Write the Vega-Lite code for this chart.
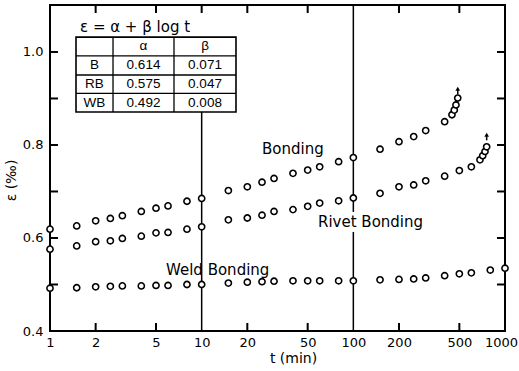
{
  "$schema": "https://vega.github.io/schema/vega-lite/v6.json",
  "width": 455,
  "height": 326,
  "autosize": {"type": "none"},
  "padding": {"left": 50, "top": 5, "right": 14, "bottom": 40},
  "background": "white",
  "config": {
    "view": {"stroke": "black", "strokeWidth": 2},
    "font": "DejaVu Sans"
  },
  "datasets": {
    "series": [
      {"series": "B", "t": 1, "eps": 0.619}, {"series": "B", "t": 1.5, "eps": 0.626}, {"series": "B", "t": 2, "eps": 0.637},
      {"series": "B", "t": 2.5, "eps": 0.642}, {"series": "B", "t": 3, "eps": 0.648}, {"series": "B", "t": 4, "eps": 0.657},
      {"series": "B", "t": 5, "eps": 0.664}, {"series": "B", "t": 6, "eps": 0.669}, {"series": "B", "t": 8, "eps": 0.679},
      {"series": "B", "t": 10, "eps": 0.685}, {"series": "B", "t": 15, "eps": 0.702}, {"series": "B", "t": 20, "eps": 0.710},
      {"series": "B", "t": 25, "eps": 0.720}, {"series": "B", "t": 30, "eps": 0.728}, {"series": "B", "t": 40, "eps": 0.739},
      {"series": "B", "t": 50, "eps": 0.746}, {"series": "B", "t": 60, "eps": 0.753}, {"series": "B", "t": 80, "eps": 0.764},
      {"series": "B", "t": 100, "eps": 0.773}, {"series": "B", "t": 150, "eps": 0.791}, {"series": "B", "t": 200, "eps": 0.807},
      {"series": "B", "t": 250, "eps": 0.818}, {"series": "B", "t": 300, "eps": 0.831}, {"series": "B", "t": 400, "eps": 0.850},
      {"series": "B", "t": 447, "eps": 0.865}, {"series": "B", "t": 463, "eps": 0.875}, {"series": "B", "t": 475, "eps": 0.886},
      {"series": "B", "t": 488, "eps": 0.901},
      {"series": "RB", "t": 1, "eps": 0.576}, {"series": "RB", "t": 1.5, "eps": 0.583}, {"series": "RB", "t": 2, "eps": 0.592},
      {"series": "RB", "t": 2.5, "eps": 0.594}, {"series": "RB", "t": 3, "eps": 0.599}, {"series": "RB", "t": 4, "eps": 0.604},
      {"series": "RB", "t": 5, "eps": 0.611}, {"series": "RB", "t": 6, "eps": 0.612}, {"series": "RB", "t": 8, "eps": 0.619},
      {"series": "RB", "t": 10, "eps": 0.624}, {"series": "RB", "t": 15, "eps": 0.639}, {"series": "RB", "t": 20, "eps": 0.643},
      {"series": "RB", "t": 25, "eps": 0.649}, {"series": "RB", "t": 30, "eps": 0.657}, {"series": "RB", "t": 40, "eps": 0.661},
      {"series": "RB", "t": 50, "eps": 0.668}, {"series": "RB", "t": 60, "eps": 0.675}, {"series": "RB", "t": 80, "eps": 0.680},
      {"series": "RB", "t": 100, "eps": 0.686}, {"series": "RB", "t": 150, "eps": 0.696}, {"series": "RB", "t": 200, "eps": 0.710},
      {"series": "RB", "t": 250, "eps": 0.714}, {"series": "RB", "t": 300, "eps": 0.723}, {"series": "RB", "t": 400, "eps": 0.733},
      {"series": "RB", "t": 500, "eps": 0.745}, {"series": "RB", "t": 600, "eps": 0.753}, {"series": "RB", "t": 684, "eps": 0.768},
      {"series": "RB", "t": 713, "eps": 0.777}, {"series": "RB", "t": 738, "eps": 0.786}, {"series": "RB", "t": 757, "eps": 0.796},
      {"series": "WB", "t": 1, "eps": 0.492}, {"series": "WB", "t": 1.5, "eps": 0.493}, {"series": "WB", "t": 2, "eps": 0.495},
      {"series": "WB", "t": 2.5, "eps": 0.496}, {"series": "WB", "t": 3, "eps": 0.497}, {"series": "WB", "t": 4, "eps": 0.497},
      {"series": "WB", "t": 5, "eps": 0.498}, {"series": "WB", "t": 6, "eps": 0.498}, {"series": "WB", "t": 8, "eps": 0.500},
      {"series": "WB", "t": 10, "eps": 0.500}, {"series": "WB", "t": 15, "eps": 0.503}, {"series": "WB", "t": 20, "eps": 0.505},
      {"series": "WB", "t": 25, "eps": 0.506}, {"series": "WB", "t": 30, "eps": 0.507}, {"series": "WB", "t": 40, "eps": 0.508},
      {"series": "WB", "t": 50, "eps": 0.508}, {"series": "WB", "t": 60, "eps": 0.508}, {"series": "WB", "t": 80, "eps": 0.508},
      {"series": "WB", "t": 100, "eps": 0.508}, {"series": "WB", "t": 150, "eps": 0.510}, {"series": "WB", "t": 200, "eps": 0.511},
      {"series": "WB", "t": 250, "eps": 0.512}, {"series": "WB", "t": 300, "eps": 0.514}, {"series": "WB", "t": 400, "eps": 0.519},
      {"series": "WB", "t": 500, "eps": 0.523}, {"series": "WB", "t": 600, "eps": 0.525}, {"series": "WB", "t": 800, "eps": 0.531},
      {"series": "WB", "t": 1000, "eps": 0.535}
    ],
    "vlines": [
      {"t": 10, "e1": 0.4, "e2": 0.871},
      {"t": 100, "e1": 0.4, "e2": 0.613},
      {"t": 100, "e1": 0.656, "e2": 1.101}
    ],
    "frameTicks": [
      {"side": "bottom", "t": 2, "eps": 0.4}, {"side": "bottom", "t": 5, "eps": 0.4}, {"side": "bottom", "t": 20, "eps": 0.4},
      {"side": "bottom", "t": 50, "eps": 0.4}, {"side": "bottom", "t": 200, "eps": 0.4}, {"side": "bottom", "t": 500, "eps": 0.4},
      {"side": "top", "t": 2, "eps": 1.101}, {"side": "top", "t": 5, "eps": 1.101}, {"side": "top", "t": 10, "eps": 1.101},
      {"side": "top", "t": 20, "eps": 1.101}, {"side": "top", "t": 50, "eps": 1.101}, {"side": "top", "t": 200, "eps": 1.101},
      {"side": "top", "t": 500, "eps": 1.101},
      {"side": "left", "t": 1, "eps": 0.5}, {"side": "left", "t": 1, "eps": 0.6}, {"side": "left", "t": 1, "eps": 0.7},
      {"side": "left", "t": 1, "eps": 0.8}, {"side": "left", "t": 1, "eps": 0.9}, {"side": "left", "t": 1, "eps": 1.0},
      {"side": "right", "t": 1000, "eps": 0.5}, {"side": "right", "t": 1000, "eps": 0.6}, {"side": "right", "t": 1000, "eps": 0.7},
      {"side": "right", "t": 1000, "eps": 0.8}, {"side": "right", "t": 1000, "eps": 0.9}, {"side": "right", "t": 1000, "eps": 1.0}
    ],
    "tableBox": [{"t1": 1.484, "t2": 16.84, "e1": 0.871, "e2": 1.032}],
    "tableRows": [
      {"t1": 1.484, "t2": 16.84, "e": 0.9914},
      {"t1": 1.484, "t2": 16.84, "e": 0.9505},
      {"t1": 1.484, "t2": 16.84, "e": 0.9108}
    ],
    "tableCols": [
      {"t": 2.603, "e1": 0.871, "e2": 1.032},
      {"t": 6.57, "e1": 0.871, "e2": 1.032}
    ],
    "tableText": [
      {"t": 4.135, "eps": 1.0118, "text": "α"}, {"t": 10.52, "eps": 1.0118, "text": "β"},
      {"t": 1.965, "eps": 0.972, "text": "B"}, {"t": 4.135, "eps": 0.972, "text": "0.614"}, {"t": 10.52, "eps": 0.972, "text": "0.071"},
      {"t": 1.965, "eps": 0.931, "text": "RB"}, {"t": 4.135, "eps": 0.931, "text": "0.575"}, {"t": 10.52, "eps": 0.931, "text": "0.047"},
      {"t": 1.965, "eps": 0.891, "text": "WB"}, {"t": 4.135, "eps": 0.891, "text": "0.492"}, {"t": 10.52, "eps": 0.891, "text": "0.008"}
    ],
    "formula": [{"t": 1.577, "eps": 1.054, "text": "ε = α + β log t"}],
    "labels": [
      {"t": 25, "eps": 0.791, "text": "Bonding"},
      {"t": 58.5, "eps": 0.634, "text": "Rivet Bonding"},
      {"t": 5.82, "eps": 0.531, "text": "Weld Bonding"}
    ],
    "arrows": [
      {"t": 488, "e1": 0.909, "e2": 0.921},
      {"t": 757, "e1": 0.810, "e2": 0.822}
    ]
  },
  "layer": [
    {
      "data": {"name": "vlines"},
      "mark": {"type": "rule", "color": "black", "strokeWidth": 1.5},
      "encoding": {
        "x": {"field": "t", "type": "quantitative", "scale": {"type": "log", "domain": [1, 1000], "nice": false}},
        "y": {"field": "e1", "type": "quantitative", "scale": {"domain": [0.4, 1.101], "nice": false, "zero": false}},
        "y2": {"field": "e2"}
      }
    },
    {
      "data": {"name": "frameTicks"},
      "mark": {"type": "point", "filled": false, "stroke": "black", "strokeWidth": 2, "size": 64, "opacity": 1, "fill": null},
      "encoding": {
        "x": {"field": "t", "type": "quantitative"},
        "y": {"field": "eps", "type": "quantitative"},
        "shape": {"field": "side", "type": "nominal", "legend": null,
                  "scale": {"domain": ["bottom", "top", "left", "right"],
                            "range": ["M0,0L0,-2", "M0,0L0,2", "M0,0L2,0", "M0,0L-2,0"]}}
      }
    },
    {
      "data": {"name": "tableBox"},
      "mark": {"type": "rect", "fill": "white", "stroke": "black", "strokeWidth": 1.6},
      "encoding": {
        "x": {"field": "t1", "type": "quantitative"},
        "x2": {"field": "t2"},
        "y": {"field": "e1", "type": "quantitative"},
        "y2": {"field": "e2"}
      }
    },
    {
      "data": {"name": "tableRows"},
      "mark": {"type": "rule", "color": "black", "strokeWidth": 1.3},
      "encoding": {
        "x": {"field": "t1", "type": "quantitative"},
        "x2": {"field": "t2"},
        "y": {"field": "e", "type": "quantitative"}
      }
    },
    {
      "data": {"name": "tableCols"},
      "mark": {"type": "rule", "color": "black", "strokeWidth": 1.3},
      "encoding": {
        "x": {"field": "t", "type": "quantitative"},
        "y": {"field": "e1", "type": "quantitative"},
        "y2": {"field": "e2"}
      }
    },
    {
      "data": {"name": "tableText"},
      "mark": {"type": "text", "align": "center", "baseline": "middle", "font": "Liberation Sans", "fontSize": 13.5, "color": "black"},
      "encoding": {
        "x": {"field": "t", "type": "quantitative"},
        "y": {"field": "eps", "type": "quantitative"},
        "text": {"field": "text"}
      }
    },
    {
      "data": {"name": "formula"},
      "mark": {"type": "text", "align": "left", "baseline": "middle", "font": "DejaVu Sans", "fontSize": 15, "color": "black"},
      "encoding": {
        "x": {"field": "t", "type": "quantitative"},
        "y": {"field": "eps", "type": "quantitative"},
        "text": {"field": "text"}
      }
    },
    {
      "data": {"name": "labels"},
      "mark": {"type": "text", "align": "left", "baseline": "middle", "font": "DejaVu Sans", "fontSize": 15, "color": "black"},
      "encoding": {
        "x": {"field": "t", "type": "quantitative"},
        "y": {"field": "eps", "type": "quantitative"},
        "text": {"field": "text"}
      }
    },
    {
      "data": {"name": "arrows"},
      "mark": {"type": "rule", "color": "black", "strokeWidth": 1.5},
      "encoding": {
        "x": {"field": "t", "type": "quantitative"},
        "y": {"field": "e1", "type": "quantitative"},
        "y2": {"field": "e2"}
      }
    },
    {
      "data": {"name": "arrows"},
      "mark": {"type": "point", "shape": "triangle-up", "filled": true, "color": "black", "size": 22, "opacity": 1},
      "encoding": {
        "x": {"field": "t", "type": "quantitative"},
        "y": {"field": "e2", "type": "quantitative"}
      }
    },
    {
      "data": {"name": "series"},
      "mark": {"type": "point", "shape": "circle", "filled": false, "fill": "white", "fillOpacity": 1, "stroke": "black", "strokeWidth": 1.6, "size": 38, "opacity": 1},
      "encoding": {
        "x": {"field": "t", "type": "quantitative",
              "axis": {"orient": "bottom", "values": [1, 2, 5, 10, 20, 50, 100, 200, 500, 1000], "format": "d",
                       "domain": false, "grid": false, "ticks": false, "labelFlush": false,
                       "labelOffset": {"condition": {"test": "datum.value == 1000", "value": -4}, "value": 0},
                       "labelPadding": 5, "labelFont": "DejaVu Sans", "labelFontSize": 13, "labelColor": "black",
                       "title": "t  (min)", "titleFont": "DejaVu Sans", "titleFontSize": 14, "titleFontWeight": "normal",
                       "titleColor": "black", "titleX": 243, "titlePadding": 2}},
        "y": {"field": "eps", "type": "quantitative",
              "axis": {"orient": "left", "values": [0.4, 0.6, 0.8, 1.0], "format": ".1f",
                       "domain": false, "grid": false, "ticks": false, "labelFlush": false,
                       "labelPadding": 7, "labelFont": "DejaVu Sans", "labelFontSize": 13, "labelColor": "black",
                       "title": "ε  (‰)", "titleFont": "DejaVu Sans", "titleFontSize": 14, "titleFontWeight": "normal",
                       "titleColor": "black", "titlePadding": 4, "titleY": 175}}
      }
    }
  ]
}
